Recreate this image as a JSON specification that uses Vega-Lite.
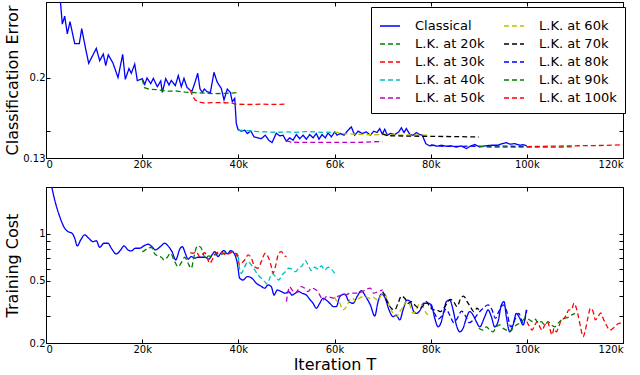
{
"$schema": "https://vega.github.io/schema/vega-lite/v6.json",
"padding": {"left": 3, "top": 1, "right": 2, "bottom": 2},
"spacing": 16,
"config": {
"font": "DejaVu Sans",
"view": {"stroke": "black", "strokeWidth": 1},
"axis": {"grid": false, "domain": false, "tickColor": "black", "tickSize": -4, "labelFontSize": 10, "labelColor": "black", "labelPadding": 5, "titleFontSize": 16, "titleFontWeight": "normal", "titleColor": "black", "labelFont": "DejaVu Sans", "titleFont": "DejaVu Sans"}
},
"datasets": {
"err": [
{"s":"Classical","k":2.9,"v":0.31},{"s":"Classical","k":3.39,"v":0.2665},{"s":"Classical","k":3.89,"v":0.278},{"s":"Classical","k":4.43,"v":0.253},{"s":"Classical","k":4.99,"v":0.27},{"s":"Classical","k":5.97,"v":0.24},{"s":"Classical","k":6.93,"v":0.24},{"s":"Classical","k":7.43,"v":0.26},{"s":"Classical","k":8.26,"v":0.233},{"s":"Classical","k":8.88,"v":0.216},{"s":"Classical","k":10.46,"v":0.234},{"s":"Classical","k":11.17,"v":0.219},{"s":"Classical","k":11.92,"v":0.227},{"s":"Classical","k":12.42,"v":0.2134},{"s":"Classical","k":12.96,"v":0.226},{"s":"Classical","k":13.94,"v":0.216},{"s":"Classical","k":14.98,"v":0.2},{"s":"Classical","k":15.95,"v":0.2267},{"s":"Classical","k":16.49,"v":0.1982},{"s":"Classical","k":17.26,"v":0.21},{"s":"Classical","k":17.74,"v":0.2047},{"s":"Classical","k":18.45,"v":0.215},{"s":"Classical","k":18.99,"v":0.1968},{"s":"Classical","k":20.03,"v":0.1989},{"s":"Classical","k":20.53,"v":0.1929},{"s":"Classical","k":21.01,"v":0.1996},{"s":"Classical","k":21.78,"v":0.1937},{"s":"Classical","k":22.32,"v":0.1992},{"s":"Classical","k":23.15,"v":0.1905},{"s":"Classical","k":23.86,"v":0.1965},{"s":"Classical","k":24.19,"v":0.1848},{"s":"Classical","k":24.9,"v":0.1989},{"s":"Classical","k":25.58,"v":0.1923},{"s":"Classical","k":26.06,"v":0.1971},{"s":"Classical","k":26.89,"v":0.1916},{"s":"Classical","k":27.52,"v":0.2022},{"s":"Classical","k":28.14,"v":0.1905},{"s":"Classical","k":28.7,"v":0.1992},{"s":"Classical","k":29.33,"v":0.1898},{"s":"Classical","k":29.95,"v":0.1872},{"s":"Classical","k":30.37,"v":0.1862},{"s":"Classical","k":30.93,"v":0.194},{"s":"Classical","k":31.55,"v":0.2047},{"s":"Classical","k":32.03,"v":0.1882},{"s":"Classical","k":32.51,"v":0.1848},{"s":"Classical","k":32.93,"v":0.1882},{"s":"Classical","k":33.49,"v":0.1855},{"s":"Classical","k":34.18,"v":0.1845},{"s":"Classical","k":34.94,"v":0.2058},{"s":"Classical","k":35.57,"v":0.1957},{"s":"Classical","k":35.98,"v":0.1923},{"s":"Classical","k":36.46,"v":0.1888},{"s":"Classical","k":37.02,"v":0.1774},{"s":"Classical","k":37.71,"v":0.1882},{"s":"Classical","k":38.33,"v":0.1848},{"s":"Classical","k":38.75,"v":0.1758},{"s":"Classical","k":39.25,"v":0.1789},{"s":"Classical","k":39.58,"v":0.1564},{"s":"Classical","k":39.94,"v":0.1514},{"s":"Classical","k":40.6,"v":0.1501},{"s":"Classical","k":41.33,"v":0.1509},{"s":"Classical","k":41.87,"v":0.1482},{"s":"Classical","k":42.58,"v":0.1503},{"s":"Classical","k":43.26,"v":0.1456},{"s":"Classical","k":44.1,"v":0.1448},{"s":"Classical","k":44.78,"v":0.1442},{"s":"Classical","k":45.61,"v":0.1469},{"s":"Classical","k":46.32,"v":0.143},{"s":"Classical","k":47.01,"v":0.1412},{"s":"Classical","k":47.9,"v":0.1485},{"s":"Classical","k":48.61,"v":0.1464},{"s":"Classical","k":49.3,"v":0.1469},{"s":"Classical","k":49.98,"v":0.1422},{"s":"Classical","k":50.69,"v":0.1448},{"s":"Classical","k":51.38,"v":0.143},{"s":"Classical","k":52.06,"v":0.1474},{"s":"Classical","k":52.77,"v":0.1442},{"s":"Classical","k":53.46,"v":0.1469},{"s":"Classical","k":54.14,"v":0.1438},{"s":"Classical","k":54.85,"v":0.1474},{"s":"Classical","k":55.54,"v":0.1448},{"s":"Classical","k":56.22,"v":0.1482},{"s":"Classical","k":56.78,"v":0.1438},{"s":"Classical","k":57.41,"v":0.1474},{"s":"Classical","k":58.09,"v":0.1448},{"s":"Classical","k":58.66,"v":0.1487},{"s":"Classical","k":59.34,"v":0.1456},{"s":"Classical","k":60.05,"v":0.1495},{"s":"Classical","k":60.53,"v":0.1469},{"s":"Classical","k":61.21,"v":0.1482},{"s":"Classical","k":61.98,"v":0.1469},{"s":"Classical","k":62.82,"v":0.1509},{"s":"Classical","k":63.5,"v":0.1536},{"s":"Classical","k":64.21,"v":0.1469},{"s":"Classical","k":64.9,"v":0.1501},{"s":"Classical","k":65.79,"v":0.1482},{"s":"Classical","k":66.62,"v":0.1495},{"s":"Classical","k":67.45,"v":0.1469},{"s":"Classical","k":68.16,"v":0.1501},{"s":"Classical","k":68.85,"v":0.149},{"s":"Classical","k":69.41,"v":0.1522},{"s":"Classical","k":69.95,"v":0.1477},{"s":"Classical","k":70.45,"v":0.1517},{"s":"Classical","k":70.99,"v":0.1469},{"s":"Classical","k":71.61,"v":0.1482},{"s":"Classical","k":72.53,"v":0.1474},{"s":"Classical","k":73.36,"v":0.1495},{"s":"Classical","k":73.9,"v":0.1528},{"s":"Classical","k":74.46,"v":0.149},{"s":"Classical","k":74.94,"v":0.1522},{"s":"Classical","k":75.65,"v":0.1477},{"s":"Classical","k":76.34,"v":0.1469},{"s":"Classical","k":77.02,"v":0.149},{"s":"Classical","k":77.58,"v":0.1477},{"s":"Classical","k":78.27,"v":0.1469},{"s":"Classical","k":78.98,"v":0.1404},{"s":"Classical","k":79.81,"v":0.1387},{"s":"Classical","k":80.5,"v":0.1392},{"s":"Classical","k":81.33,"v":0.1385},{"s":"Classical","k":82.22,"v":0.1392},{"s":"Classical","k":83.26,"v":0.1385},{"s":"Classical","k":84.3,"v":0.1387},{"s":"Classical","k":85.34,"v":0.1379},{"s":"Classical","k":86.38,"v":0.1387},{"s":"Classical","k":87.42,"v":0.1367},{"s":"Classical","k":88.25,"v":0.1385},{"s":"Classical","k":89.17,"v":0.1397},{"s":"Classical","k":90.21,"v":0.1379},{"s":"Classical","k":91.25,"v":0.1387},{"s":"Classical","k":92.63,"v":0.1392},{"s":"Classical","k":94.02,"v":0.1392},{"s":"Classical","k":94.85,"v":0.1404},{"s":"Classical","k":95.74,"v":0.1412},{"s":"Classical","k":96.45,"v":0.14},{"s":"Classical","k":97.49,"v":0.1404},{"s":"Classical","k":98.53,"v":0.1392},{"s":"Classical","k":99.22,"v":0.1397},{"s":"Classical","k":100,"v":0.1387},
{"s":"L.K. at 20k","k":20,"v":0.198},{"s":"L.K. at 20k","k":20.5,"v":0.1895},{"s":"L.K. at 20k","k":21.5,"v":0.188},{"s":"L.K. at 20k","k":23,"v":0.1875},{"s":"L.K. at 20k","k":25,"v":0.186},{"s":"L.K. at 20k","k":27,"v":0.1862},{"s":"L.K. at 20k","k":29,"v":0.185},{"s":"L.K. at 20k","k":31,"v":0.1845},{"s":"L.K. at 20k","k":33,"v":0.184},{"s":"L.K. at 20k","k":35,"v":0.1835},{"s":"L.K. at 20k","k":37,"v":0.1838},{"s":"L.K. at 20k","k":38.5,"v":0.184},{"s":"L.K. at 20k","k":40,"v":0.1848},
{"s":"L.K. at 30k","k":30,"v":0.187},{"s":"L.K. at 30k","k":30.5,"v":0.181},{"s":"L.K. at 30k","k":31,"v":0.1775},{"s":"L.K. at 30k","k":32,"v":0.1755},{"s":"L.K. at 30k","k":33,"v":0.1745},{"s":"L.K. at 30k","k":35,"v":0.175},{"s":"L.K. at 30k","k":37,"v":0.1748},{"s":"L.K. at 30k","k":38.5,"v":0.1745},{"s":"L.K. at 30k","k":39.5,"v":0.1735},{"s":"L.K. at 30k","k":42,"v":0.1732},{"s":"L.K. at 30k","k":45,"v":0.1735},{"s":"L.K. at 30k","k":48,"v":0.1732},{"s":"L.K. at 30k","k":50,"v":0.1735},
{"s":"L.K. at 40k","k":40,"v":0.151},{"s":"L.K. at 40k","k":42,"v":0.1505},{"s":"L.K. at 40k","k":44,"v":0.1498},{"s":"L.K. at 40k","k":46,"v":0.1495},{"s":"L.K. at 40k","k":48,"v":0.1492},{"s":"L.K. at 40k","k":50,"v":0.1495},{"s":"L.K. at 40k","k":52,"v":0.1492},{"s":"L.K. at 40k","k":54,"v":0.1498},{"s":"L.K. at 40k","k":56,"v":0.1495},{"s":"L.K. at 40k","k":58,"v":0.149},{"s":"L.K. at 40k","k":60,"v":0.1495},
{"s":"L.K. at 50k","k":50,"v":0.1425},{"s":"L.K. at 50k","k":51,"v":0.1415},{"s":"L.K. at 50k","k":55,"v":0.1413},{"s":"L.K. at 50k","k":60,"v":0.1413},{"s":"L.K. at 50k","k":65,"v":0.1413},{"s":"L.K. at 50k","k":68,"v":0.1418},{"s":"L.K. at 50k","k":70,"v":0.142},
{"s":"L.K. at 60k","k":60,"v":0.1495},{"s":"L.K. at 60k","k":62,"v":0.148},{"s":"L.K. at 60k","k":64,"v":0.1478},{"s":"L.K. at 60k","k":66,"v":0.1475},{"s":"L.K. at 60k","k":68,"v":0.1472},{"s":"L.K. at 60k","k":70,"v":0.1475},{"s":"L.K. at 60k","k":72,"v":0.1472},{"s":"L.K. at 60k","k":74,"v":0.147},{"s":"L.K. at 60k","k":76,"v":0.1472},{"s":"L.K. at 60k","k":78,"v":0.147},{"s":"L.K. at 60k","k":80,"v":0.147},
{"s":"L.K. at 70k","k":70,"v":0.148},{"s":"L.K. at 70k","k":71,"v":0.1465},{"s":"L.K. at 70k","k":75,"v":0.1462},{"s":"L.K. at 70k","k":80,"v":0.146},{"s":"L.K. at 70k","k":85,"v":0.1458},{"s":"L.K. at 70k","k":90,"v":0.1455},
{"s":"L.K. at 80k","k":80,"v":0.1395},{"s":"L.K. at 80k","k":82,"v":0.1385},{"s":"L.K. at 80k","k":85,"v":0.1383},{"s":"L.K. at 80k","k":88,"v":0.1385},{"s":"L.K. at 80k","k":90,"v":0.1383},{"s":"L.K. at 80k","k":93,"v":0.1385},{"s":"L.K. at 80k","k":96,"v":0.1385},{"s":"L.K. at 80k","k":100,"v":0.1383},
{"s":"L.K. at 90k","k":90,"v":0.1385},{"s":"L.K. at 90k","k":92,"v":0.1378},{"s":"L.K. at 90k","k":95,"v":0.1378},{"s":"L.K. at 90k","k":100,"v":0.1378},{"s":"L.K. at 90k","k":105,"v":0.1378},{"s":"L.K. at 90k","k":110,"v":0.138},
{"s":"L.K. at 100k","k":100,"v":0.1382},{"s":"L.K. at 100k","k":105,"v":0.1385},{"s":"L.K. at 100k","k":110,"v":0.1388},{"s":"L.K. at 100k","k":115,"v":0.139},{"s":"L.K. at 100k","k":120,"v":0.1395}
],
"cost": [
{"s":"Classical","k":0.8,"v":2.3},{"s":"Classical","k":1.81,"v":1.653},{"s":"Classical","k":2.85,"v":1.292},{"s":"Classical","k":3.89,"v":1.088},{"s":"Classical","k":4.58,"v":1.035},{"s":"Classical","k":5.41,"v":1.011},{"s":"Classical","k":5.97,"v":0.939},{"s":"Classical","k":6.51,"v":0.838},{"s":"Classical","k":7.22,"v":0.916},{"s":"Classical","k":8.05,"v":0.986},{"s":"Classical","k":8.88,"v":0.939},{"s":"Classical","k":9.78,"v":0.893},{"s":"Classical","k":10.46,"v":0.906},{"s":"Classical","k":11.17,"v":0.822},{"s":"Classical","k":12.06,"v":0.872},{"s":"Classical","k":12.9,"v":0.872},{"s":"Classical","k":13.58,"v":0.81},{"s":"Classical","k":14.62,"v":0.745},{"s":"Classical","k":15.54,"v":0.79},{"s":"Classical","k":16.22,"v":0.838},{"s":"Classical","k":17.06,"v":0.79},{"s":"Classical","k":17.74,"v":0.778},{"s":"Classical","k":18.57,"v":0.81},{"s":"Classical","k":19.49,"v":0.81},{"s":"Classical","k":20.32,"v":0.838},{"s":"Classical","k":21.22,"v":0.859},{"s":"Classical","k":22.05,"v":0.829},{"s":"Classical","k":22.73,"v":0.79},{"s":"Classical","k":23.77,"v":0.829},{"s":"Classical","k":24.69,"v":0.872},{"s":"Classical","k":25.38,"v":0.838},{"s":"Classical","k":26.21,"v":0.77},{"s":"Classical","k":26.98,"v":0.682},{"s":"Classical","k":27.81,"v":0.798},{"s":"Classical","k":28.35,"v":0.829},{"s":"Classical","k":28.97,"v":0.752},{"s":"Classical","k":29.54,"v":0.689},{"s":"Classical","k":30.22,"v":0.716},{"s":"Classical","k":30.93,"v":0.699},{"s":"Classical","k":31.62,"v":0.709},{"s":"Classical","k":32.45,"v":0.709},{"s":"Classical","k":33.14,"v":0.709},{"s":"Classical","k":33.84,"v":0.689},{"s":"Classical","k":34.53,"v":0.734},{"s":"Classical","k":35.09,"v":0.77},{"s":"Classical","k":35.78,"v":0.716},{"s":"Classical","k":36.34,"v":0.752},{"s":"Classical","k":37.02,"v":0.782},{"s":"Classical","k":37.71,"v":0.745},{"s":"Classical","k":38.42,"v":0.782},{"s":"Classical","k":39.1,"v":0.752},{"s":"Classical","k":39.79,"v":0.649},{"s":"Classical","k":40.29,"v":0.52},{"s":"Classical","k":40.98,"v":0.507},{"s":"Classical","k":41.87,"v":0.533},{"s":"Classical","k":42.85,"v":0.52},{"s":"Classical","k":43.74,"v":0.483},{"s":"Classical","k":44.66,"v":0.464},{"s":"Classical","k":45.49,"v":0.449},{"s":"Classical","k":46.18,"v":0.471},{"s":"Classical","k":46.86,"v":0.459},{"s":"Classical","k":47.42,"v":0.406},{"s":"Classical","k":48.11,"v":0.4375},{"s":"Classical","k":48.94,"v":0.427},{"s":"Classical","k":49.77,"v":0.417},{"s":"Classical","k":50.48,"v":0.427},{"s":"Classical","k":51.17,"v":0.406},{"s":"Classical","k":51.85,"v":0.417},{"s":"Classical","k":52.56,"v":0.427},{"s":"Classical","k":53.25,"v":0.417},{"s":"Classical","k":54.14,"v":0.406},{"s":"Classical","k":54.85,"v":0.381},{"s":"Classical","k":55.54,"v":0.3595},{"s":"Classical","k":56.22,"v":0.334},{"s":"Classical","k":56.93,"v":0.3595},{"s":"Classical","k":57.62,"v":0.387},{"s":"Classical","k":58.3,"v":0.377},{"s":"Classical","k":59.01,"v":0.3595},{"s":"Classical","k":59.84,"v":0.342},{"s":"Classical","k":60.38,"v":0.342},{"s":"Classical","k":61.09,"v":0.396},{"s":"Classical","k":62.13,"v":0.412},{"s":"Classical","k":63.02,"v":0.368},{"s":"Classical","k":63.86,"v":0.3595},{"s":"Classical","k":64.69,"v":0.396},{"s":"Classical","k":65.58,"v":0.433},{"s":"Classical","k":66.5,"v":0.396},{"s":"Classical","k":67.45,"v":0.351},{"s":"Classical","k":68.37,"v":0.298},{"s":"Classical","k":69.06,"v":0.368},{"s":"Classical","k":69.74,"v":0.412},{"s":"Classical","k":70.45,"v":0.393},{"s":"Classical","k":71.34,"v":0.326},{"s":"Classical","k":72.18,"v":0.295},{"s":"Classical","k":72.86,"v":0.302},{"s":"Classical","k":73.57,"v":0.281},{"s":"Classical","k":74.26,"v":0.326},{"s":"Classical","k":75.09,"v":0.377},{"s":"Classical","k":75.77,"v":0.368},{"s":"Classical","k":76.48,"v":0.318},{"s":"Classical","k":77.02,"v":0.31},{"s":"Classical","k":77.85,"v":0.326},{"s":"Classical","k":78.56,"v":0.3595},{"s":"Classical","k":79.46,"v":0.3595},{"s":"Classical","k":80.14,"v":0.351},{"s":"Classical","k":80.85,"v":0.288},{"s":"Classical","k":81.54,"v":0.254},{"s":"Classical","k":82.22,"v":0.274},{"s":"Classical","k":82.72,"v":0.318},{"s":"Classical","k":83.26,"v":0.368},{"s":"Classical","k":83.97,"v":0.377},{"s":"Classical","k":84.66,"v":0.326},{"s":"Classical","k":85.34,"v":0.261},{"s":"Classical","k":86.05,"v":0.236},{"s":"Classical","k":86.74,"v":0.2485},{"s":"Classical","k":87.42,"v":0.288},{"s":"Classical","k":88.13,"v":0.318},{"s":"Classical","k":88.82,"v":0.302},{"s":"Classical","k":89.5,"v":0.274},{"s":"Classical","k":90.21,"v":0.254},{"s":"Classical","k":91.25,"v":0.295},{"s":"Classical","k":91.94,"v":0.326},{"s":"Classical","k":92.62,"v":0.295},{"s":"Classical","k":93.33,"v":0.254},{"s":"Classical","k":94.02,"v":0.274},{"s":"Classical","k":94.7,"v":0.351},{"s":"Classical","k":95.26,"v":0.368},{"s":"Classical","k":95.74,"v":0.295},{"s":"Classical","k":96.45,"v":0.236},{"s":"Classical","k":97.14,"v":0.261},{"s":"Classical","k":97.82,"v":0.31},{"s":"Classical","k":98.53,"v":0.288},{"s":"Classical","k":99.22,"v":0.261},{"s":"Classical","k":99.9,"v":0.326},
{"s":"L.K. at 20k","k":20.03,"v":0.765},{"s":"L.K. at 20k","k":21.22,"v":0.81},{"s":"L.K. at 20k","k":21.9,"v":0.822},{"s":"L.K. at 20k","k":22.61,"v":0.745},{"s":"L.K. at 20k","k":23.3,"v":0.723},{"s":"L.K. at 20k","k":23.98,"v":0.709},{"s":"L.K. at 20k","k":24.54,"v":0.682},{"s":"L.K. at 20k","k":25.23,"v":0.709},{"s":"L.K. at 20k","k":25.85,"v":0.752},{"s":"L.K. at 20k","k":26.77,"v":0.665},{"s":"L.K. at 20k","k":27.46,"v":0.617},{"s":"L.K. at 20k","k":28.14,"v":0.655},{"s":"L.K. at 20k","k":28.85,"v":0.709},{"s":"L.K. at 20k","k":29.54,"v":0.649},{"s":"L.K. at 20k","k":30.22,"v":0.603},{"s":"L.K. at 20k","k":30.78,"v":0.716},{"s":"L.K. at 20k","k":31.47,"v":0.838},{"s":"L.K. at 20k","k":32.18,"v":0.822},{"s":"L.K. at 20k","k":32.66,"v":0.752},{"s":"L.K. at 20k","k":33.14,"v":0.699},{"s":"L.K. at 20k","k":33.84,"v":0.723},{"s":"L.K. at 20k","k":34.53,"v":0.716},{"s":"L.K. at 20k","k":35.42,"v":0.752},{"s":"L.K. at 20k","k":36.13,"v":0.734},{"s":"L.K. at 20k","k":37.02,"v":0.752},{"s":"L.K. at 20k","k":37.86,"v":0.752},{"s":"L.K. at 20k","k":38.69,"v":0.77},{"s":"L.K. at 20k","k":39.58,"v":0.752},{"s":"L.K. at 20k","k":40,"v":0.72},
{"s":"L.K. at 30k","k":30,"v":0.76},{"s":"L.K. at 30k","k":30.58,"v":0.752},{"s":"L.K. at 30k","k":31.26,"v":0.77},{"s":"L.K. at 30k","k":31.97,"v":0.716},{"s":"L.K. at 30k","k":32.45,"v":0.734},{"s":"L.K. at 30k","k":33.01,"v":0.758},{"s":"L.K. at 30k","k":33.55,"v":0.699},{"s":"L.K. at 30k","k":34.05,"v":0.649},{"s":"L.K. at 30k","k":34.74,"v":0.699},{"s":"L.K. at 30k","k":35.42,"v":0.752},{"s":"L.K. at 30k","k":36.13,"v":0.77},{"s":"L.K. at 30k","k":36.82,"v":0.752},{"s":"L.K. at 30k","k":37.5,"v":0.734},{"s":"L.K. at 30k","k":38.21,"v":0.752},{"s":"L.K. at 30k","k":38.9,"v":0.77},{"s":"L.K. at 30k","k":39.79,"v":0.716},{"s":"L.K. at 30k","k":40.29,"v":0.633},{"s":"L.K. at 30k","k":40.98,"v":0.665},{"s":"L.K. at 30k","k":41.45,"v":0.689},{"s":"L.K. at 30k","k":42.02,"v":0.734},{"s":"L.K. at 30k","k":42.7,"v":0.699},{"s":"L.K. at 30k","k":43.41,"v":0.617},{"s":"L.K. at 30k","k":44.1,"v":0.603},{"s":"L.K. at 30k","k":44.78,"v":0.665},{"s":"L.K. at 30k","k":45.61,"v":0.752},{"s":"L.K. at 30k","k":46.32,"v":0.699},{"s":"L.K. at 30k","k":46.86,"v":0.617},{"s":"L.K. at 30k","k":47.22,"v":0.56},{"s":"L.K. at 30k","k":47.7,"v":0.617},{"s":"L.K. at 30k","k":48.4,"v":0.752},{"s":"L.K. at 30k","k":48.94,"v":0.77},{"s":"L.K. at 30k","k":49.65,"v":0.723},{"s":"L.K. at 30k","k":50,"v":0.716},
{"s":"L.K. at 40k","k":40,"v":0.716},{"s":"L.K. at 40k","k":40.29,"v":0.588},{"s":"L.K. at 40k","k":40.62,"v":0.56},{"s":"L.K. at 40k","k":41.33,"v":0.617},{"s":"L.K. at 40k","k":42.02,"v":0.665},{"s":"L.K. at 40k","k":42.7,"v":0.633},{"s":"L.K. at 40k","k":43.41,"v":0.588},{"s":"L.K. at 40k","k":44.1,"v":0.546},{"s":"L.K. at 40k","k":44.78,"v":0.52},{"s":"L.K. at 40k","k":45.49,"v":0.495},{"s":"L.K. at 40k","k":45.97,"v":0.478},{"s":"L.K. at 40k","k":46.53,"v":0.52},{"s":"L.K. at 40k","k":47.01,"v":0.56},{"s":"L.K. at 40k","k":47.7,"v":0.533},{"s":"L.K. at 40k","k":48.4,"v":0.507},{"s":"L.K. at 40k","k":49.09,"v":0.546},{"s":"L.K. at 40k","k":49.77,"v":0.573},{"s":"L.K. at 40k","k":50.48,"v":0.603},{"s":"L.K. at 40k","k":51.17,"v":0.594},{"s":"L.K. at 40k","k":51.85,"v":0.573},{"s":"L.K. at 40k","k":52.56,"v":0.603},{"s":"L.K. at 40k","k":53.25,"v":0.624},{"s":"L.K. at 40k","k":53.94,"v":0.675},{"s":"L.K. at 40k","k":54.5,"v":0.633},{"s":"L.K. at 40k","k":55.18,"v":0.582},{"s":"L.K. at 40k","k":55.89,"v":0.612},{"s":"L.K. at 40k","k":56.58,"v":0.594},{"s":"L.K. at 40k","k":57.26,"v":0.624},{"s":"L.K. at 40k","k":57.97,"v":0.588},{"s":"L.K. at 40k","k":58.66,"v":0.612},{"s":"L.K. at 40k","k":59.34,"v":0.594},{"s":"L.K. at 40k","k":60.05,"v":0.56},
{"s":"L.K. at 50k","k":50,"v":0.368},{"s":"L.K. at 50k","k":50.34,"v":0.427},{"s":"L.K. at 50k","k":50.69,"v":0.459},{"s":"L.K. at 50k","k":51.17,"v":0.4375},{"s":"L.K. at 50k","k":51.73,"v":0.417},{"s":"L.K. at 50k","k":52.42,"v":0.4375},{"s":"L.K. at 50k","k":53.1,"v":0.459},{"s":"L.K. at 50k","k":53.81,"v":0.449},{"s":"L.K. at 50k","k":54.5,"v":0.427},{"s":"L.K. at 50k","k":55.18,"v":0.449},{"s":"L.K. at 50k","k":56.22,"v":0.4375},{"s":"L.K. at 50k","k":56.93,"v":0.406},{"s":"L.K. at 50k","k":57.62,"v":0.377},{"s":"L.K. at 50k","k":58.3,"v":0.396},{"s":"L.K. at 50k","k":59.01,"v":0.393},{"s":"L.K. at 50k","k":60.05,"v":0.387},{"s":"L.K. at 50k","k":60.53,"v":0.396},{"s":"L.K. at 50k","k":61.42,"v":0.406},{"s":"L.K. at 50k","k":62.34,"v":0.406},{"s":"L.K. at 50k","k":63.17,"v":0.417},{"s":"L.K. at 50k","k":64,"v":0.417},{"s":"L.K. at 50k","k":64.9,"v":0.417},{"s":"L.K. at 50k","k":65.79,"v":0.427},{"s":"L.K. at 50k","k":66.62,"v":0.442},{"s":"L.K. at 50k","k":67.45,"v":0.449},{"s":"L.K. at 50k","k":68.16,"v":0.417},{"s":"L.K. at 50k","k":69.06,"v":0.427},{"s":"L.K. at 50k","k":70,"v":0.4375},
{"s":"L.K. at 60k","k":60,"v":0.396},{"s":"L.K. at 60k","k":60.53,"v":0.368},{"s":"L.K. at 60k","k":61.09,"v":0.3595},{"s":"L.K. at 60k","k":61.78,"v":0.326},{"s":"L.K. at 60k","k":62.46,"v":0.342},{"s":"L.K. at 60k","k":63.17,"v":0.377},{"s":"L.K. at 60k","k":63.71,"v":0.387},{"s":"L.K. at 60k","k":64.42,"v":0.368},{"s":"L.K. at 60k","k":65.1,"v":0.387},{"s":"L.K. at 60k","k":65.94,"v":0.396},{"s":"L.K. at 60k","k":66.62,"v":0.393},{"s":"L.K. at 60k","k":67.33,"v":0.387},{"s":"L.K. at 60k","k":68.02,"v":0.393},{"s":"L.K. at 60k","k":69.06,"v":0.377},{"s":"L.K. at 60k","k":69.74,"v":0.406},{"s":"L.K. at 60k","k":70.24,"v":0.417},{"s":"L.K. at 60k","k":70.78,"v":0.396},{"s":"L.K. at 60k","k":71.49,"v":0.342},{"s":"L.K. at 60k","k":72.18,"v":0.31},{"s":"L.K. at 60k","k":72.86,"v":0.295},{"s":"L.K. at 60k","k":73.57,"v":0.318},{"s":"L.K. at 60k","k":74.26,"v":0.342},{"s":"L.K. at 60k","k":74.94,"v":0.368},{"s":"L.K. at 60k","k":75.65,"v":0.351},{"s":"L.K. at 60k","k":76.34,"v":0.31},{"s":"L.K. at 60k","k":77.02,"v":0.326},{"s":"L.K. at 60k","k":77.73,"v":0.3595},{"s":"L.K. at 60k","k":78.42,"v":0.342},{"s":"L.K. at 60k","k":79.1,"v":0.31},{"s":"L.K. at 60k","k":79.81,"v":0.302},{"s":"L.K. at 60k","k":80,"v":0.306},
{"s":"L.K. at 70k","k":70,"v":0.427},{"s":"L.K. at 70k","k":70.45,"v":0.406},{"s":"L.K. at 70k","k":71.14,"v":0.3595},{"s":"L.K. at 70k","k":71.82,"v":0.334},{"s":"L.K. at 70k","k":72.53,"v":0.326},{"s":"L.K. at 70k","k":73.22,"v":0.3595},{"s":"L.K. at 70k","k":73.9,"v":0.4},{"s":"L.K. at 70k","k":74.61,"v":0.387},{"s":"L.K. at 70k","k":75.3,"v":0.3595},{"s":"L.K. at 70k","k":75.98,"v":0.368},{"s":"L.K. at 70k","k":76.69,"v":0.351},{"s":"L.K. at 70k","k":77.58,"v":0.334},{"s":"L.K. at 70k","k":78.27,"v":0.342},{"s":"L.K. at 70k","k":79.1,"v":0.368},{"s":"L.K. at 70k","k":79.81,"v":0.342},{"s":"L.K. at 70k","k":80.5,"v":0.326},{"s":"L.K. at 70k","k":81.18,"v":0.326},{"s":"L.K. at 70k","k":82.01,"v":0.318},{"s":"L.K. at 70k","k":82.72,"v":0.334},{"s":"L.K. at 70k","k":83.41,"v":0.3595},{"s":"L.K. at 70k","k":84.1,"v":0.381},{"s":"L.K. at 70k","k":84.8,"v":0.368},{"s":"L.K. at 70k","k":85.49,"v":0.342},{"s":"L.K. at 70k","k":86.17,"v":0.381},{"s":"L.K. at 70k","k":86.88,"v":0.4},{"s":"L.K. at 70k","k":87.57,"v":0.368},{"s":"L.K. at 70k","k":88.25,"v":0.342},{"s":"L.K. at 70k","k":88.96,"v":0.318},{"s":"L.K. at 70k","k":89.65,"v":0.334},{"s":"L.K. at 70k","k":90,"v":0.326},
{"s":"L.K. at 80k","k":80,"v":0.35},{"s":"L.K. at 80k","k":80.8,"v":0.31},{"s":"L.K. at 80k","k":81.6,"v":0.285},{"s":"L.K. at 80k","k":82.4,"v":0.3},{"s":"L.K. at 80k","k":83.2,"v":0.33},{"s":"L.K. at 80k","k":84,"v":0.3},{"s":"L.K. at 80k","k":84.8,"v":0.27},{"s":"L.K. at 80k","k":85.6,"v":0.29},{"s":"L.K. at 80k","k":86.4,"v":0.32},{"s":"L.K. at 80k","k":87.2,"v":0.3},{"s":"L.K. at 80k","k":88,"v":0.27},{"s":"L.K. at 80k","k":88.8,"v":0.28},{"s":"L.K. at 80k","k":89.9,"v":0.31},{"s":"L.K. at 80k","k":90.9,"v":0.334},{"s":"L.K. at 80k","k":91.94,"v":0.351},{"s":"L.K. at 80k","k":92.77,"v":0.326},{"s":"L.K. at 80k","k":93.46,"v":0.288},{"s":"L.K. at 80k","k":94.16,"v":0.318},{"s":"L.K. at 80k","k":95.06,"v":0.351},{"s":"L.K. at 80k","k":95.74,"v":0.326},{"s":"L.K. at 80k","k":96.66,"v":0.254},{"s":"L.K. at 80k","k":97.49,"v":0.281},{"s":"L.K. at 80k","k":98.32,"v":0.31},{"s":"L.K. at 80k","k":99.22,"v":0.268},{"s":"L.K. at 80k","k":100,"v":0.326},
{"s":"L.K. at 90k","k":90,"v":0.2485},{"s":"L.K. at 90k","k":90.9,"v":0.242},{"s":"L.K. at 90k","k":91.6,"v":0.254},{"s":"L.K. at 90k","k":92.3,"v":0.242},{"s":"L.K. at 90k","k":92.98,"v":0.236},{"s":"L.K. at 90k","k":93.66,"v":0.254},{"s":"L.K. at 90k","k":94.37,"v":0.261},{"s":"L.K. at 90k","k":95.06,"v":0.2485},{"s":"L.K. at 90k","k":95.74,"v":0.242},{"s":"L.K. at 90k","k":96.45,"v":0.236},{"s":"L.K. at 90k","k":97.14,"v":0.2485},{"s":"L.K. at 90k","k":97.82,"v":0.261},{"s":"L.K. at 90k","k":98.53,"v":0.268},{"s":"L.K. at 90k","k":99.22,"v":0.281},{"s":"L.K. at 90k","k":99.9,"v":0.288},{"s":"L.K. at 90k","k":100.6,"v":0.281},{"s":"L.K. at 90k","k":101.3,"v":0.274},{"s":"L.K. at 90k","k":101.77,"v":0.284},{"s":"L.K. at 90k","k":102.34,"v":0.268},{"s":"L.K. at 90k","k":103.02,"v":0.274},{"s":"L.K. at 90k","k":103.73,"v":0.261},{"s":"L.K. at 90k","k":104.42,"v":0.274},{"s":"L.K. at 90k","k":105.1,"v":0.261},{"s":"L.K. at 90k","k":105.81,"v":0.254},{"s":"L.K. at 90k","k":106.5,"v":0.268},{"s":"L.K. at 90k","k":107.18,"v":0.281},{"s":"L.K. at 90k","k":107.89,"v":0.288},{"s":"L.K. at 90k","k":108.58,"v":0.292},{"s":"L.K. at 90k","k":109.26,"v":0.302},{"s":"L.K. at 90k","k":110,"v":0.31},
{"s":"L.K. at 100k","k":100,"v":0.274},{"s":"L.K. at 100k","k":100.6,"v":0.254},{"s":"L.K. at 100k","k":101.1,"v":0.242},{"s":"L.K. at 100k","k":101.65,"v":0.261},{"s":"L.K. at 100k","k":102.2,"v":0.274},{"s":"L.K. at 100k","k":102.7,"v":0.254},{"s":"L.K. at 100k","k":103.17,"v":0.242},{"s":"L.K. at 100k","k":103.73,"v":0.261},{"s":"L.K. at 100k","k":104.27,"v":0.274},{"s":"L.K. at 100k","k":104.77,"v":0.2485},{"s":"L.K. at 100k","k":105.25,"v":0.225},{"s":"L.K. at 100k","k":105.66,"v":0.2485},{"s":"L.K. at 100k","k":106.14,"v":0.236},{"s":"L.K. at 100k","k":106.64,"v":0.254},{"s":"L.K. at 100k","k":107.18,"v":0.281},{"s":"L.K. at 100k","k":107.74,"v":0.288},{"s":"L.K. at 100k","k":108.22,"v":0.302},{"s":"L.K. at 100k","k":108.72,"v":0.326},{"s":"L.K. at 100k","k":109.26,"v":0.326},{"s":"L.K. at 100k","k":109.82,"v":0.3595},{"s":"L.K. at 100k","k":110.3,"v":0.334},{"s":"L.K. at 100k","k":110.8,"v":0.288},{"s":"L.K. at 100k","k":111.22,"v":0.2485},{"s":"L.K. at 100k","k":111.7,"v":0.2195},{"s":"L.K. at 100k","k":112.17,"v":0.242},{"s":"L.K. at 100k","k":112.74,"v":0.295},{"s":"L.K. at 100k","k":113.21,"v":0.334},{"s":"L.K. at 100k","k":113.78,"v":0.318},{"s":"L.K. at 100k","k":114.25,"v":0.281},{"s":"L.K. at 100k","k":114.82,"v":0.295},{"s":"L.K. at 100k","k":115.38,"v":0.312},{"s":"L.K. at 100k","k":115.86,"v":0.288},{"s":"L.K. at 100k","k":116.54,"v":0.261},{"s":"L.K. at 100k","k":117.25,"v":0.242},{"s":"L.K. at 100k","k":117.94,"v":0.2485},{"s":"L.K. at 100k","k":118.62,"v":0.261},{"s":"L.K. at 100k","k":119.33,"v":0.268},{"s":"L.K. at 100k","k":120,"v":0.261}
]
},
"vconcat": [
{
"width": 577, "height": 156,
"data": {"name": "err"},
"layer": [
{
"mark": {"type": "line", "clip": true, "strokeWidth": 1.3},
"encoding": {
"x": {"field": "k", "type": "quantitative", "scale": {"domain": [0, 120], "nice": false, "zero": false}, "axis": {"values": [0,20,40,60,80,100,120], "labelExpr": "datum.value == 0 ? '0' : datum.value + 'k'", "title": null}},
"y": {"field": "v", "type": "quantitative", "scale": {"type": "log", "domain": [0.13, 0.3], "nice": false}, "axis": {"values": [0.13, 0.15, 0.2, 0.3], "labelExpr": "(datum.value == 0.13 || datum.value == 0.2) ? format(datum.value, '.2~f') : ''", "title": "Classification Error", "minExtent": 26, "maxExtent": 26, "titlePadding": 0}},
"color": {"field": "s", "type": "nominal", "sort": null, "scale": {"domain": ["Classical","L.K. at 20k","L.K. at 30k","L.K. at 40k","L.K. at 50k","L.K. at 60k","L.K. at 70k","L.K. at 80k","L.K. at 90k","L.K. at 100k"], "range": ["#0000ff","#008000","#ff0000","#00bfbf","#bf00bf","#bfbf00","#000000","#0000ff","#008000","#ff0000"]},
"legend": {"title": null, "orient": "none", "legendX": 325, "legendY": 5, "columns": 2, "symbolType": "stroke", "symbolSize": 400, "symbolStrokeWidth": 1.3, "labelFontSize": 13, "labelFont": "DejaVu Sans", "labelColor": "black", "labelOffset": 14, "columnPadding": 16, "rowPadding": -1, "padding": 8, "strokeColor": "black", "fillColor": "white", "labelLimit": 200}},
"strokeDash": {"field": "s", "type": "nominal", "sort": null, "scale": {"domain": ["Classical","L.K. at 20k","L.K. at 30k","L.K. at 40k","L.K. at 50k","L.K. at 60k","L.K. at 70k","L.K. at 80k","L.K. at 90k","L.K. at 100k"], "range": [[1,0],[5,3],[5,3],[5,3],[5,3],[5,3],[5,3],[5,3],[5,3],[5,3]]},
"legend": {"title": null, "orient": "none", "legendX": 325, "legendY": 5, "columns": 2, "symbolType": "stroke", "symbolSize": 400, "symbolStrokeWidth": 1.3, "labelFontSize": 13, "labelFont": "DejaVu Sans", "labelColor": "black", "labelOffset": 14, "columnPadding": 16, "rowPadding": -1, "padding": 8, "strokeColor": "black", "fillColor": "white", "labelLimit": 200}}
}
},
{
"mark": {"type": "line", "opacity": 0, "clip": true},
"encoding": {
"x": {"field": "k", "type": "quantitative", "axis": {"orient": "top", "values": [0,20,40,60,80,100,120], "labels": false, "title": null, "minExtent": 0, "maxExtent": 0, "labelPadding": 0}},
"y": {"field": "v", "type": "quantitative", "axis": {"orient": "right", "values": [0.13, 0.15, 0.2, 0.3], "labels": false, "title": null, "minExtent": 0, "maxExtent": 0, "labelPadding": 0}}
}
}
],
"resolve": {"axis": {"x": "independent", "y": "independent"}}
},
{
"width": 577, "height": 156,
"data": {"name": "cost"},
"layer": [
{
"mark": {"type": "line", "clip": true, "strokeWidth": 1.3, "interpolate": "monotone"},
"encoding": {
"x": {"field": "k", "type": "quantitative", "scale": {"domain": [0, 120], "nice": false, "zero": false}, "axis": {"values": [0,20,40,60,80,100,120], "labelExpr": "datum.value == 0 ? '0' : datum.value + 'k'", "title": "Iteration T", "titlePadding": 2}},
"y": {"field": "v", "type": "quantitative", "scale": {"type": "log", "domain": [0.2, 2], "nice": false}, "axis": {"values": [0.2,0.3,0.4,0.5,0.6,0.7,0.8,0.9,1,2], "labelExpr": "(datum.value == 0.2 || datum.value == 0.5 || datum.value == 1) ? format(datum.value, '~g') : ''", "title": "Training Cost", "minExtent": 26, "maxExtent": 26, "titlePadding": 0}},
"color": {"field": "s", "type": "nominal", "sort": null, "scale": {"domain": ["Classical","L.K. at 20k","L.K. at 30k","L.K. at 40k","L.K. at 50k","L.K. at 60k","L.K. at 70k","L.K. at 80k","L.K. at 90k","L.K. at 100k"], "range": ["#0000ff","#008000","#ff0000","#00bfbf","#bf00bf","#bfbf00","#000000","#0000ff","#008000","#ff0000"]}, "legend": null},
"strokeDash": {"field": "s", "type": "nominal", "sort": null, "scale": {"domain": ["Classical","L.K. at 20k","L.K. at 30k","L.K. at 40k","L.K. at 50k","L.K. at 60k","L.K. at 70k","L.K. at 80k","L.K. at 90k","L.K. at 100k"], "range": [[1,0],[5,3],[5,3],[5,3],[5,3],[5,3],[5,3],[5,3],[5,3],[5,3]]}, "legend": null}
}
},
{
"mark": {"type": "line", "opacity": 0, "clip": true},
"encoding": {
"x": {"field": "k", "type": "quantitative", "axis": {"orient": "top", "values": [0,20,40,60,80,100,120], "labels": false, "title": null, "minExtent": 0, "maxExtent": 0, "labelPadding": 0}},
"y": {"field": "v", "type": "quantitative", "axis": {"orient": "right", "values": [0.2,0.3,0.4,0.5,0.6,0.7,0.8,0.9,1,2], "labels": false, "title": null, "minExtent": 0, "maxExtent": 0, "labelPadding": 0}}
}
}
],
"resolve": {"axis": {"x": "independent", "y": "independent"}}
}
],
"resolve": {"legend": {"color": "independent", "strokeDash": "independent"}, "scale": {"color": "independent", "strokeDash": "independent"}}
}
